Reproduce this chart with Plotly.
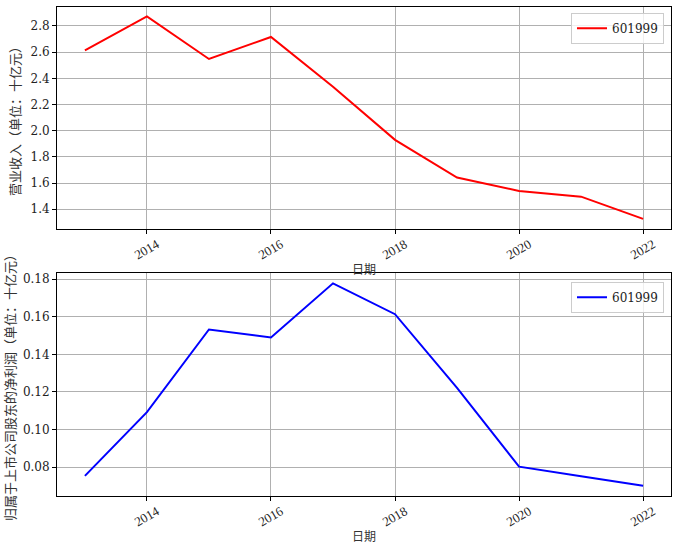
import plotly.graph_objects as go
from plotly.subplots import make_subplots

years = [2013, 2014, 2015, 2016, 2017, 2018, 2019, 2020, 2021, 2022]
revenue = [2.613, 2.873, 2.548, 2.716, 2.336, 1.930, 1.642, 1.540, 1.496, 1.326]
net_profit = [0.0754, 0.1093, 0.1532, 0.1489, 0.1777, 0.1613, 0.1222, 0.0803, 0.0752, 0.0702]
series_name = "601999"
x_ticks = [2014, 2016, 2018, 2020, 2022]
top_ticks = [1.4, 1.6, 1.8, 2.0, 2.2, 2.4, 2.6, 2.8]
bot_ticks = [0.08, 0.10, 0.12, 0.14, 0.16, 0.18]

FONT = "'DejaVu Serif', 'Noto Sans CJK SC', serif"
XFONT = "'Liberation Serif', 'DejaVu Serif', serif"

fig = make_subplots(rows=2, cols=1, vertical_spacing=0.09)
fig.add_trace(go.Scatter(x=years, y=revenue, mode="lines", name=series_name,
                         line=dict(color="red", width=2), legend="legend"), row=1, col=1)
fig.add_trace(go.Scatter(x=years, y=net_profit, mode="lines", name=series_name,
                         line=dict(color="blue", width=2), legend="legend2"), row=2, col=1)

axis_common = dict(showgrid=True, gridcolor="#b0b0b0", gridwidth=0.8,
                   showline=True, linecolor="black", linewidth=1, mirror=True,
                   ticks="outside", ticklen=4, tickcolor="black", zeroline=False,
                   automargin=False)

for r in (1, 2):
    fig.update_xaxes(range=[2012.55, 2022.45], tickvals=x_ticks,
                     ticktext=[str(v) for v in x_ticks], tickangle=-30,
                     ticklabelshift=10, ticklabelstandoff=-2,
                     tickfont=dict(family=XFONT, size=13, color="#222"),
                     title=dict(text="日期", font=dict(family=FONT, size=12, color="#333"), standoff=4),
                     row=r, col=1, **axis_common)

fig.update_yaxes(range=[1.249, 2.945], tickvals=top_ticks,
                 ticktext=[f"{v:.1f}" for v in top_ticks],
                 tickfont=dict(family=FONT, size=12, color="#222"),
                 title=dict(text="营业收入（单位：十亿元）", font=dict(family=FONT, size=13, color="#333"), standoff=6),
                 row=1, col=1, **axis_common)
fig.update_yaxes(range=[0.0647, 0.1832], tickvals=bot_ticks,
                 ticktext=[f"{v:.2f}" for v in bot_ticks],
                 tickfont=dict(family=FONT, size=12, color="#222"),
                 title=dict(text="归属于上市公司股东的净利润（单位：十亿元）", font=dict(family=FONT, size=13, color="#333"), standoff=4),
                 row=2, col=1, **axis_common)

legend_style = dict(xanchor="right", yanchor="top", itemwidth=30,
                    bordercolor="#cccccc", borderwidth=1, bgcolor="rgba(255,255,255,0.8)",
                    font=dict(family=FONT, size=12, color="#222"))

fig.update_layout(
    width=677, height=549,
    margin=dict(l=57, r=6, t=7, b=53, autoexpand=False),
    plot_bgcolor="white", paper_bgcolor="white",
    xaxis=dict(domain=[0, 1]), xaxis2=dict(domain=[0, 1]),
    yaxis=dict(domain=[0.546, 1.0]), yaxis2=dict(domain=[0.0, 0.456]),
    font=dict(family=FONT, size=13, color="#222"),
    legend=dict(x=0.9886, y=0.988, **legend_style),
    legend2=dict(x=0.9886, y=0.438, **legend_style),
    showlegend=True,
)

fig.write_html("out.html", config={"displayModeBar": False},
               post_script="document.body.style.margin='0px';document.body.style.overflow='hidden';")
